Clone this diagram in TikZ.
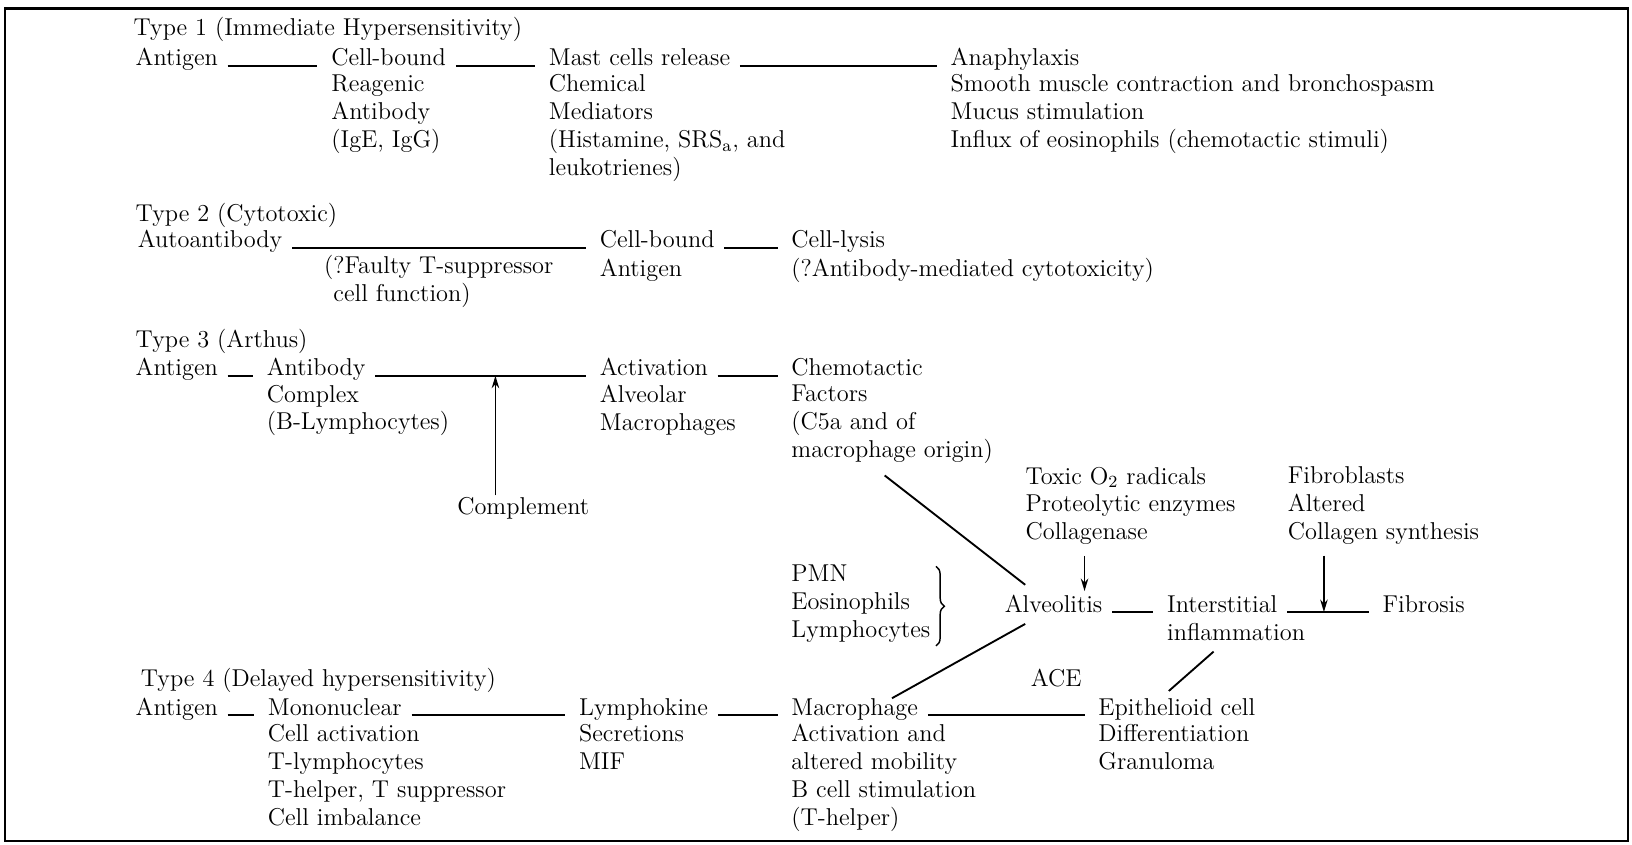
\documentclass[tikz,border=0pt]{standalone}
\usetikzlibrary{arrows.meta,calc,decorations.pathreplacing}

\tikzset{
    txt/.style={inner sep=0pt, align=left,
        font=\fontsize{11.7}{13.4}\selectfont,
        execute at begin node=\strut, execute at end node=\strut},
    hd/.style={txt, anchor=base west},
    bd/.style={txt, anchor=north west},
    link/.style={line width=0.9pt, shorten <=4.5pt, shorten >=6.5pt},
    slant/.style={line width=0.9pt},
    arr/.style={line width=0.8pt, -{Stealth[length=6pt,width=3.6pt]}},
}

\begin{document}
\begin{tikzpicture}[x=0.5pt, y=-0.5pt]
        \useasboundingbox (0, 0) rectangle (1568, 811);
        \draw[line width=1.2pt] (5, 8) rectangle (1564, 808);

        % type 1
        \node[hd] (t1) at (128, 34) {Type 1 (Immediate Hypersensitivity)};
        \node[hd] (ag1) at (130, 63) {Antigen};
        \node[hd] (cb1) at (318, 63) {Cell-bound};
        \node[bd] (cb1b) at (cb1.south west) {Reagenic\\Antibody\\(IgE, IgG)};
        \node[hd] (mc1) at (527, 63) {Mast cells release};
        \node[bd] (mc1b) at (mc1.south west)
            {Chemical\\Mediators\\(Histamine, SRS\textsubscript{a}, and\\leukotrienes)};
        \node[hd] (an1) at (913, 63) {Anaphylaxis};
        \node[bd] (an1b) at (an1.south west)
            {Smooth muscle contraction and bronchospasm\\Mucus stimulation\\
            Influx of eosinophils (chemotactic stimuli)};

        % type 2
        \node[hd] (t2) at (130, 213) {Type 2 (Cytotoxic)};
        \node[hd] (aa2) at (132, 238) {Autoantibody};
        \node[bd] (ft2) at (311, 245.2)
            {(?Faulty T-suppressor\\\hspace*{4.5pt}cell function)};
        \node[hd] (cb2) at (576, 238) {Cell-bound};
        \node[bd] (cb2b) at (cb2.south west) {Antigen};
        \node[hd] (cl2) at (760, 238) {Cell-lysis};
        \node[bd] (cl2b) at (cl2.south west) {(?Antibody-mediated cytotoxicity)};

        % type 3
        \node[hd] (t3) at (130, 334) {Type 3 (Arthus)};
        \node[hd] (ag3) at (130, 361) {Antigen};
        \node[hd] (ab3) at (256, 361) {Antibody};
        \node[bd] (ab3b) at (ab3.south west) {Complex\\(B-Lymphocytes)};
        \node[hd] (ac3) at (576, 361) {Activation};
        \node[bd] (ac3b) at (ac3.south west) {Alveolar\\Macrophages};
        \node[hd] (ch3) at (760, 361) {Chemotactic};
        \node[bd] (ch3b) at (ch3.south west)
            {Factors\\(C5a and of\\macrophage origin)};
        \node[hd] (comp) at (439, 494) {Complement};

        % lung
        \node[bd] (tox) at (985, 448.2)
            {Toxic O\textsubscript{2} radicals\\Proteolytic enzymes\\Collagenase};
        \node[bd] (fib) at (1237, 448.2)
            {Fibroblasts\\Altered\\Collagen synthesis};
        \node[bd] (pmn) at (760, 542.2) {PMN\\Eosinophils\\Lymphocytes};
        \node[hd] (alv) at (965, 588) {Alveolitis};
        \node[hd] (int) at (1121, 588) {Interstitial};
        \node[bd] (intb) at (int.south west) {inflammation};
        \node[hd] (fbr) at (1328, 588) {Fibrosis};

        % type 4
        \node[hd] (t4) at (135, 660) {Type 4 (Delayed hypersensitivity)};
        \node[hd] (ace) at (990, 660) {ACE};
        \node[hd] (ag4) at (130, 687) {Antigen};
        \node[hd] (mn4) at (257, 687) {Mononuclear};
        \node[bd] (mn4b) at (mn4.south west)
            {Cell activation\\T-lymphocytes\\T-helper, T suppressor\\Cell imbalance};
        \node[hd] (ly4) at (556, 687) {Lymphokine};
        \node[bd] (ly4b) at (ly4.south west) {Secretions\\MIF};
        \node[hd] (mac4) at (760, 687) {Macrophage};
        \node[bd] (mac4b) at (mac4.south west)
            {Activation and\\altered mobility\\B cell stimulation\\(T-helper)};
        \node[hd] (ep4) at (1055, 687) {Epithelioid cell};
        \node[bd] (ep4b) at (ep4.south west) {Differentiation\\Granuloma};

        \foreach \a/\b in {ag1/cb1, cb1/mc1, mc1/an1, aa2/cb2, cb2/cl2,
            ag3/ab3, ab3/ac3, ac3/ch3, alv/int, int/fbr,
            ag4/mn4, mn4/ly4, ly4/mac4, mac4/ep4}
        \draw[link] (\a.base east) -- (\b.base west);

        \coordinate (cp) at ($(comp.north west) + (37, 1)$);
        \draw[arr] (cp) -- (cp |- ab3.base);
        \coordinate (fa) at ($(fib.south west) + (35, 7)$);
        \draw[arr] (fa) -- (fa |- int.base);
        \draw[arr] ($(tox.south west) + (57, 7)$) -- ($(alv.north west) + (77, -1)$);

        \draw[slant] ($(ch3b.south west) + (90, 9)$) -- ($(alv.north west) + (20, -7)$);
        \draw[slant] ($(alv.south west) + (20, 3)$) -- ($(mac4.north west) + (97, 3)$);
        \draw[slant] ($(intb.south west) + (45, 2)$) -- ($(ep4.north west) + (68, -4)$);

        \draw[line width=0.7pt, decorate, decoration={brace, amplitude=4pt}]
            ($(pmn.north east) + (5, 2)$) -- ($(pmn.south east) + (5, 0)$);
    \end{tikzpicture}
\end{document}
